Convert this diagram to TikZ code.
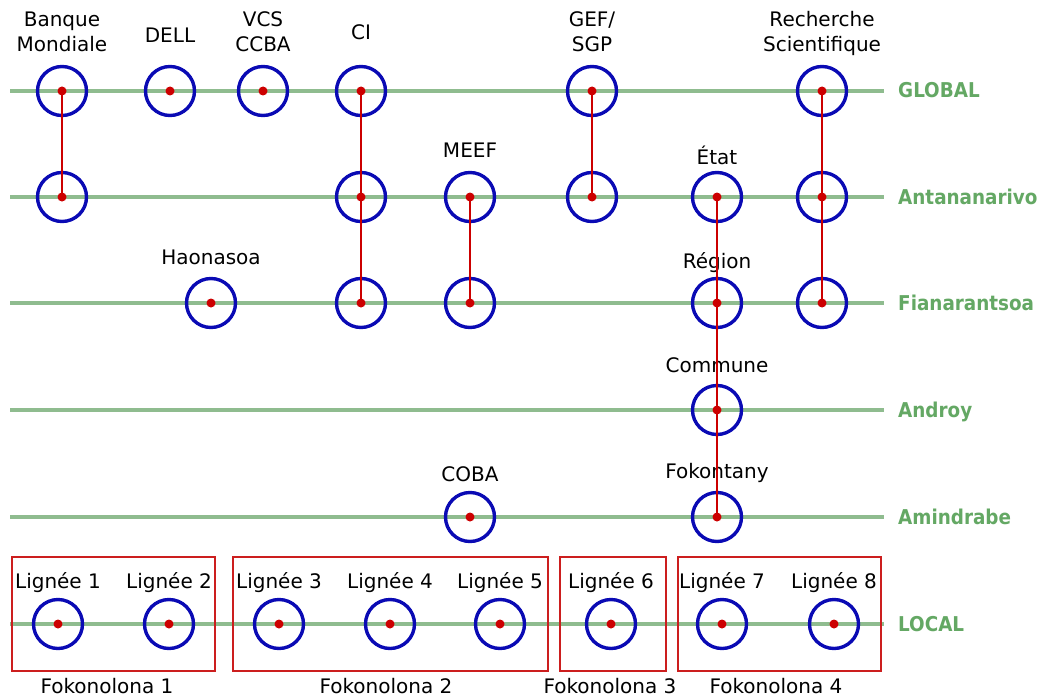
\documentclass[tikz,border=0pt]{standalone}
\usepackage{fontspec}
\setmainfont{DejaVu Sans}
\newfontfamily\levelfont{DejaVu Sans Condensed}
\usetikzlibrary{positioning}
\definecolor{orgblue}{RGB}{10,10,180}
\definecolor{linkred}{RGB}{204,0,0}
\definecolor{levelgreen}{RGB}{143,188,143}
\definecolor{leveltext}{RGB}{100,168,100}
\definecolor{boxred}{RGB}{204,30,30}

\begin{document}
\begin{tikzpicture}[x=1pt, y=-1pt,
    org/.style={circle, draw=orgblue, line width=3.4pt, minimum size=49pt, inner sep=0pt},
    link/.style={linkred, line width=2.4pt},
    level/.style={levelgreen, line width=3.4pt},
    dot/.style={circle, fill=linkred, minimum size=9pt, inner sep=0pt},
    orgname/.style={anchor=south, inner sep=0pt, text depth=0pt, align=center, font=\fontsize{20}{25}\selectfont},
    levelname/.style={anchor=base west, inner sep=0pt, text=leveltext, font=\levelfont\bfseries\fontsize{20.4}{24}\selectfont},
    fokobox/.style={draw=boxred, line width=1.6pt, inner sep=0pt}]
    \useasboundingbox (0,0) rectangle (1040,698);

    % Draw the levels
    \foreach \y/\name/\lab in {91/g/GLOBAL, 197/a/Antananarivo, 303/f/Fianarantsoa,
                               410/d/Androy, 517/m/Amindrabe, 624/l/LOCAL} {
        \coordinate (\name L) at (10,\y);
        \coordinate (\name R) at (884,\y);
        \draw[level] (\name L) -- (\name R);
        \node[levelname] (\name lab) at (898,\y+7) {\lab};
    }

    % Draw the Fokonolona boxes
    \node[fokobox, minimum width=203, minimum height=114] (fk1) at (113.5,614) {};
    \node[fokobox, minimum width=315, minimum height=114] (fk2) at (390.5,614) {};
    \node[fokobox, minimum width=106, minimum height=114] (fk3) at (613,614) {};
    \node[fokobox, minimum width=203, minimum height=114] (fk4) at (779.5,614) {};
    \foreach \i/\x in {1/107, 2/386, 3/610, 4/776} {
        \node[orgname] (fk\i lab) at (\x,694) {Fokonolona \i};
    }

    % Draw the actors
    \foreach \name/\x/\y in {gBM/62/91, gDELL/170/91, gVCS/263/91, gCI/361/91, gGEF/592/91, gRS/822/91,
                             aBM/62/197, aCI/361/197, aMEEF/470/197, aGEF/592/197, aEtat/717/197, aRS/822/197,
                             fHao/211/303, fCI/361/303, fMEEF/470/303, fReg/717/303, fRS/822/303,
                             dCom/717/410,
                             mCOBA/470/517, mFkt/717/517} {
        \node[org] (\name) at (\x,\y) {};
    }
    \foreach \i/\x in {1/58, 2/169, 3/279, 4/390, 5/500, 6/611, 7/722, 8/834} {
        \node[org] (lin\i) at (\x,624) {};
        \node[orgname] (lin\i lab) at (\x,589) {Lignée \i};
    }

    % Add the names
    \node[orgname] at (62,52) {Banque\\Mondiale};
    \node[orgname] at (170,43) {DELL};
    \node[orgname] at (263,52) {VCS\\CCBA};
    \node[orgname] at (361,40) {CI};
    \node[orgname] at (592,52) {GEF/\\SGP};
    \node[orgname] at (822,52) {Recherche\\Scientifique};
    \node[orgname] at (470,158) {MEEF};
    \node[orgname] at (717,165) {État};
    \node[orgname] at (211,265) {Haonasoa};
    \node[orgname] at (717,269) {Région};
    \node[orgname] at (717,373) {Commune};
    \node[orgname] at (470,482) {COBA};
    \node[orgname] at (717,479) {Fokontany};

    % Draw the links
    \draw[link] (gBM.center) -- (aBM.center);
    \draw[link] (gCI.center) -- (fCI.center);
    \draw[link] (aMEEF.center) -- (fMEEF.center);
    \draw[link] (gGEF.center) -- (aGEF.center);
    \draw[link] (aEtat.center) -- (mFkt.center);
    \draw[link] (gRS.center) -- (fRS.center);

    % Add the dots
    \foreach \name in {gBM, gDELL, gVCS, gCI, gGEF, gRS, aBM, aCI, aMEEF, aGEF, aEtat, aRS,
                       fHao, fCI, fMEEF, fReg, fRS, dCom, mCOBA, mFkt,
                       lin1, lin2, lin3, lin4, lin5, lin6, lin7, lin8} {
        \node[dot] at (\name.center) {};
    }
\end{tikzpicture}
\end{document}
